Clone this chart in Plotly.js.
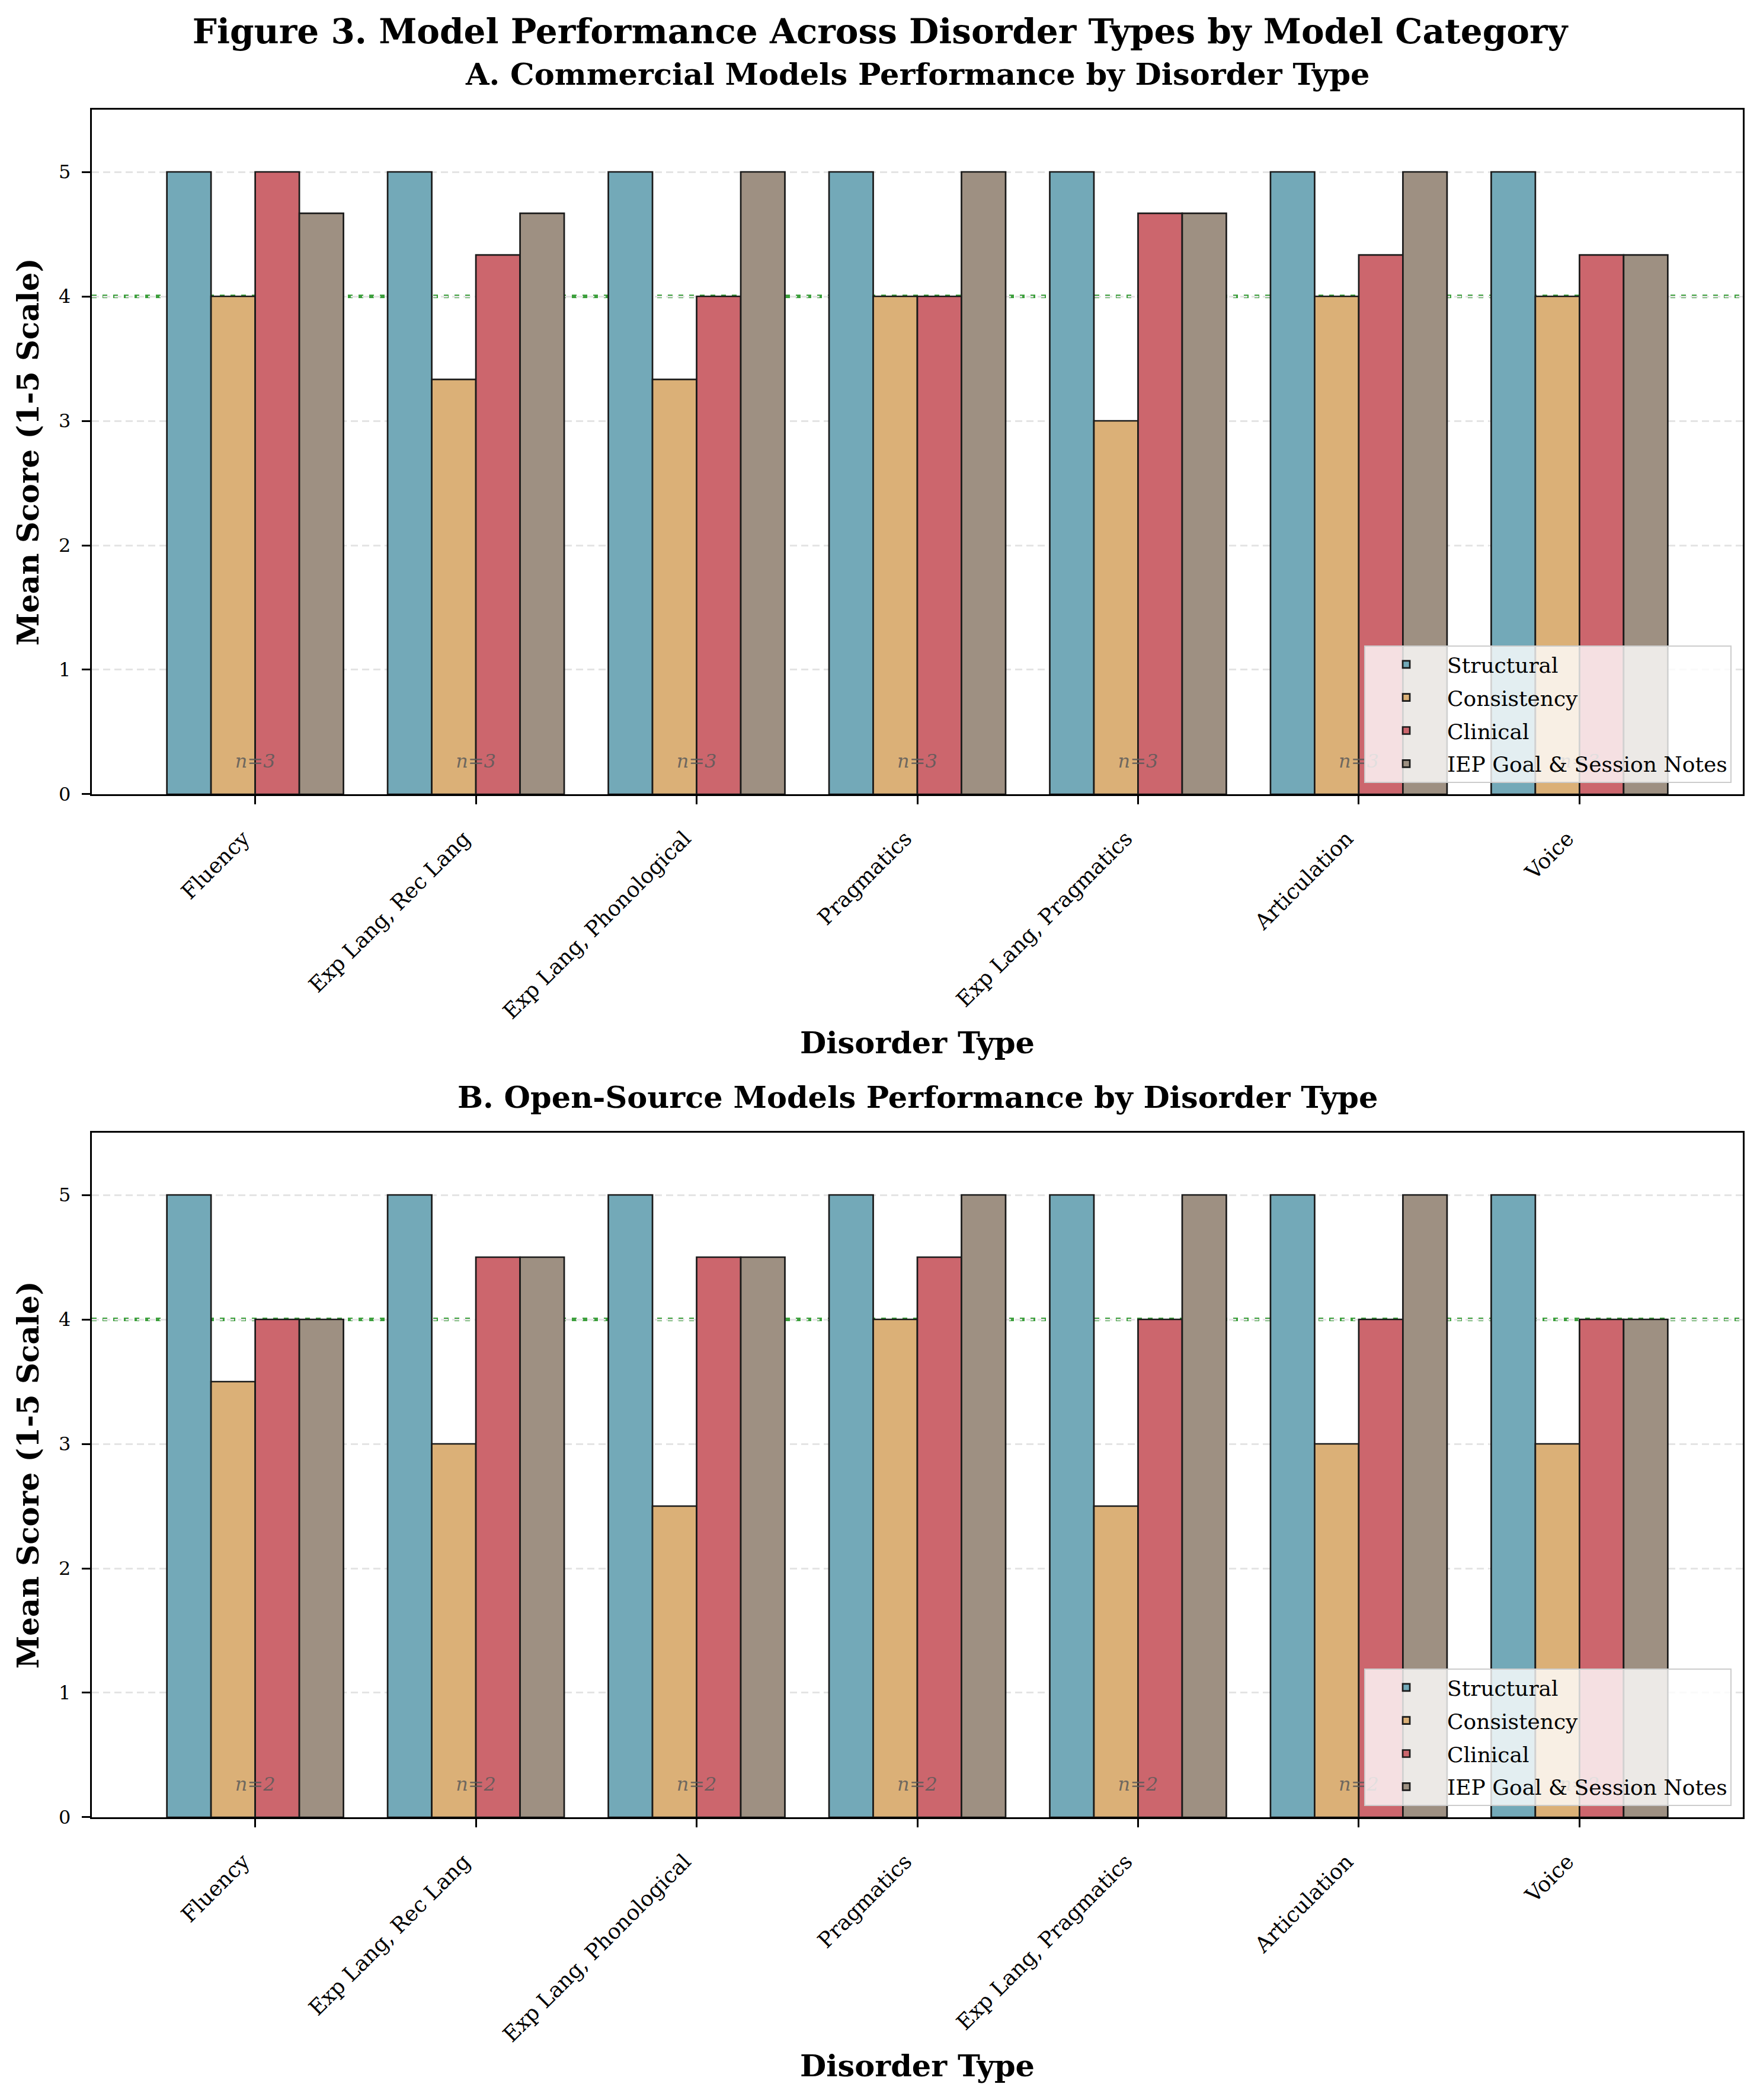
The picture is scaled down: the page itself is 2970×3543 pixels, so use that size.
<!DOCTYPE html>
<html>
<head>
<meta charset="utf-8">
<script src="https://cdn.plot.ly/plotly-3.0.1.min.js"></script>
<style>html,body{margin:0;padding:0;background:#fff;}#chart{width:2970px;height:3543px;}</style>
</head>
<body>
<div id="chart"></div>
<script>
// ---- Data ----
const categories = ['Fluency', 'Exp Lang, Rec Lang', 'Exp Lang, Phonological', 'Pragmatics', 'Exp Lang, Pragmatics', 'Articulation', 'Voice'];
const seriesNames = ['Structural', 'Consistency', 'Clinical', 'IEP Goal & Session Notes'];

const commStructural  = [5, 5, 5, 5, 5, 5, 5];
const commConsistency = [4, 3.333, 3.333, 4, 3, 4, 4];
const commClinical    = [5, 4.333, 4, 4, 4.667, 4.333, 4.333];
const commIEP         = [4.667, 4.667, 5, 5, 4.667, 5, 4.333];
const commN           = [3, 3, 3, 3, 3, 3, 3];

const openStructural  = [5, 5, 5, 5, 5, 5, 5];
const openConsistency = [3.5, 3, 2.5, 4, 2.5, 3, 3];
const openClinical    = [4, 4.5, 4.5, 4.5, 4, 4, 4];
const openIEP         = [4, 4.5, 4.5, 5, 5, 5, 4];
const openN           = [2, 2, 2, 2, 2, 2, 2];

const yTicks = [0, 1, 2, 3, 4, 5];
const threshold = 4;
const nLabelY = 0.25;

// ---- Styles ----
const colors = ['#73A9B8', '#DBB077', '#CC666D', '#9E9082'];
const FONT = 'DejaVu Serif, Liberation Serif, serif';

const commSeries = [commStructural, commConsistency, commClinical, commIEP];
const openSeries = [openStructural, openConsistency, openClinical, openIEP];

const traces = [];
function addTraces(series, ns, xa, ya, legendId, prefix) {
  series.forEach((vals, i) => {
    traces.push({
      type: 'bar',
      name: seriesNames[i],
      x: categories,
      y: vals,
      xaxis: xa,
      yaxis: ya,
      legend: legendId,
      legendgroup: prefix + i,
      marker: { color: colors[i], line: { color: '#1a1a1a', width: 2.7 } },
      hoverinfo: 'x+y+name'
    });
  });
  // sample-size labels, drawn as a text trace so the legend sits above them
  traces.push({
    type: 'scatter', mode: 'text',
    x: categories,
    y: categories.map(() => nLabelY),
    text: ns.map(n => 'n=' + n),
    textposition: 'middle center',
    textfont: { family: FONT, size: 32, color: 'rgba(90,90,90,0.85)', style: 'italic' },
    xaxis: xa, yaxis: ya, showlegend: false, hoverinfo: 'skip', cliponaxis: false
  });
}
addTraces(commSeries, commN, 'x', 'y', 'legend', 'A');
addTraces(openSeries, openN, 'x2', 'y2', 'legend2', 'B');

const annotations = [];
const topDom = [0.5991, 1];
const botDom = [0, 0.4009];

// subplot titles
annotations.push({
  xref: 'paper', yref: 'paper', x: 0.5, y: 1, yshift: 60, yanchor: 'middle', showarrow: false,
  text: '<b>A. Commercial Models Performance by Disorder Type</b>',
  font: { family: FONT, size: 51, color: '#000' }
});
annotations.push({
  xref: 'paper', yref: 'paper', x: 0.5, y: botDom[1], yshift: 60, yanchor: 'middle', showarrow: false,
  text: '<b>B. Open-Source Models Performance by Disorder Type</b>',
  font: { family: FONT, size: 51, color: '#000' }
});

function xAxis(anchor) {
  return {
    anchor: anchor, domain: [0, 1], type: 'category',
    range: [-0.74, 6.74],
    showline: true, linecolor: '#000', linewidth: 3.3, mirror: true,
    ticks: 'outside', ticklen: 14, tickwidth: 3, tickcolor: '#000',
    tickangle: -45,
    tickfont: { family: FONT, size: 36, color: '#000' },
    ticklabelshift: -20, ticklabelstandoff: 22,
    showgrid: false, zeroline: false,
    title: { text: '<b>Disorder Type</b>', font: { family: FONT, size: 51, color: '#000' }, standoff: 16 }
  };
}
function yAxis(anchor, dom) {
  return {
    anchor: anchor, domain: dom,
    range: [0, 5.5], tickvals: yTicks,
    showline: true, linecolor: '#000', linewidth: 3.3, mirror: true,
    ticks: 'outside', ticklen: 14, tickwidth: 3, tickcolor: '#000',
    tickfont: { family: FONT, size: 32, color: '#000' },
    ticklabelstandoff: 12,
    showgrid: true, gridcolor: '#e4e4e4', gridwidth: 3, griddash: '12px,7px',
    zeroline: false,
    title: { text: '<b>Mean Score (1-5 Scale)</b>', font: { family: FONT, size: 50, color: '#000' }, standoff: 18 }
  };
}

const greenLine = { color: 'rgba(40,150,40,0.9)', width: 6, dash: '8px,10px' };
const shapes = [
  { type: 'line', xref: 'x domain', yref: 'y', x0: 0, x1: 1, y0: threshold, y1: threshold, layer: 'below', line: greenLine },
  { type: 'line', xref: 'x2 domain', yref: 'y2', x0: 0, x1: 1, y0: threshold, y1: threshold, layer: 'below', line: greenLine }
];

const legendBase = {
  xanchor: 'right', yanchor: 'bottom', x: 0.9932,
  bgcolor: 'rgba(255,255,255,0.8)', bordercolor: '#cccccc', borderwidth: 2,
  font: { family: FONT, size: 36, color: '#000' },
  itemwidth: 128, tracegroupgap: 6, traceorder: 'grouped'
};

const layout = {
  width: 2970, height: 3543,
  paper_bgcolor: '#fff', plot_bgcolor: '#fff',
  margin: { l: 155, r: 29, t: 185, b: 477 },
  font: { family: FONT, color: '#000' },
  title: {
    text: '<b>Figure 3. Model Performance Across Disorder Types by Model Category</b>',
    font: { family: FONT, size: 58, color: '#000' },
    xref: 'container', x: 0.5, xanchor: 'center',
    yref: 'container', y: 1 - 53 / 3543, yanchor: 'middle'
  },
  barmode: 'group', bargap: 0.2, bargroupgap: 0,
  xaxis: xAxis('y'), yaxis: yAxis('x', topDom),
  xaxis2: xAxis('y2'), yaxis2: yAxis('x2', botDom),
  showlegend: true,
  legend: Object.assign({}, legendBase, { y: 0.6057 }),
  legend2: Object.assign({}, legendBase, { y: 0.0066 }),
  annotations: annotations,
  shapes: shapes
};

Plotly.newPlot('chart', traces, layout, { displayModeBar: false, staticPlot: true });
</script>
</body>
</html>
